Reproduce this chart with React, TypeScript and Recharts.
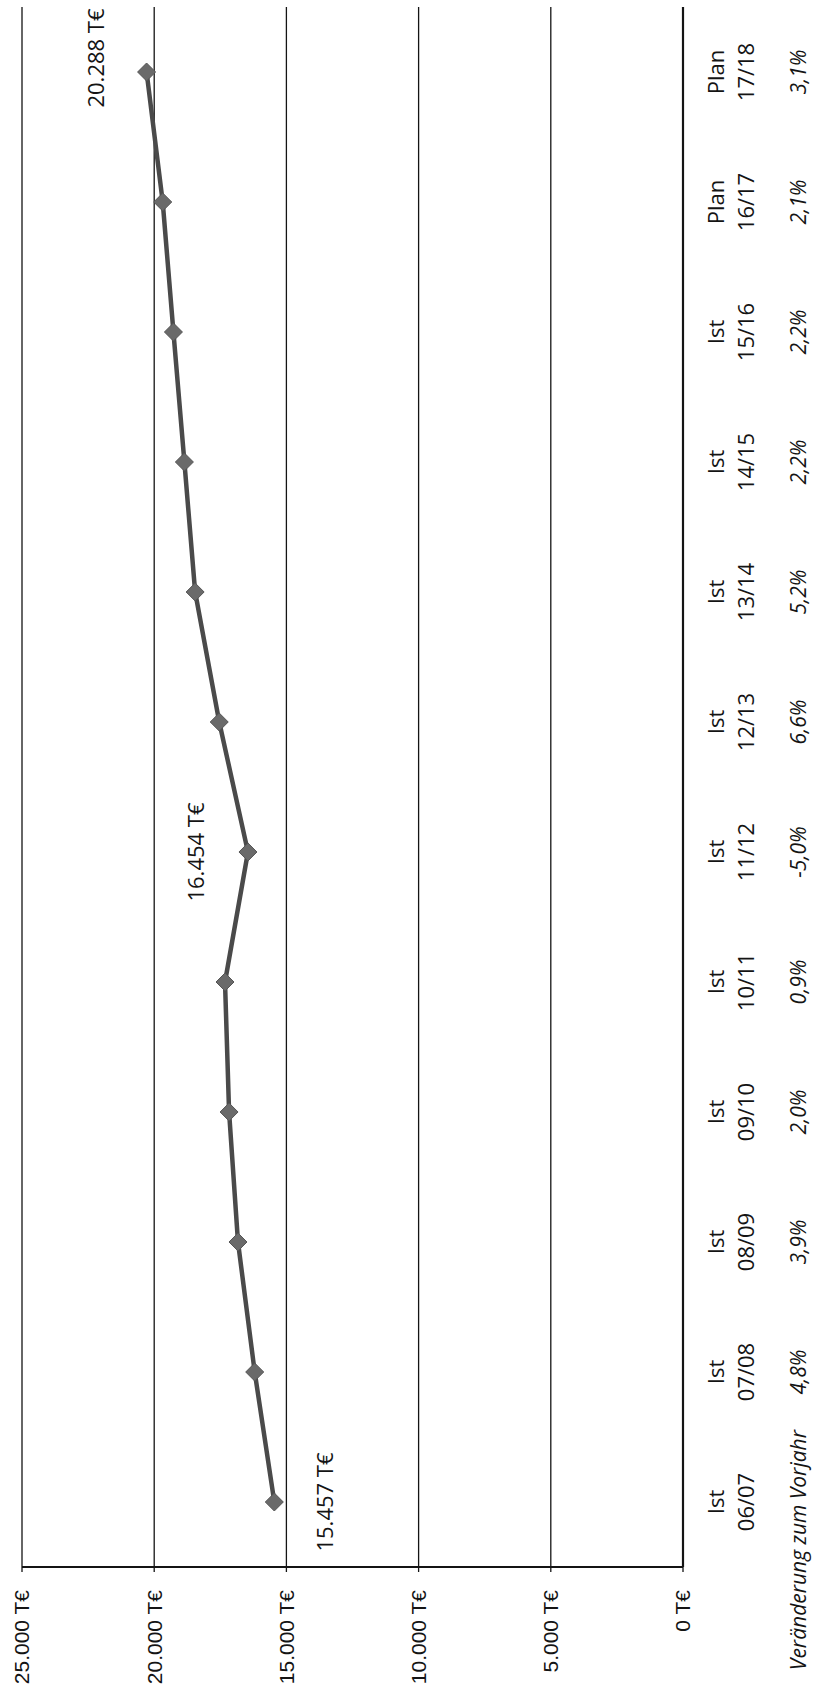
import { LineChart, Line, XAxis, YAxis, CartesianGrid } from 'recharts';

const PERIOD_TYPES = ['Ist', 'Ist', 'Ist', 'Ist', 'Ist', 'Ist', 'Ist', 'Ist', 'Ist', 'Ist', 'Plan', 'Plan'];
const PERIODS = ['06/07', '07/08', '08/09', '09/10', '10/11', '11/12', '12/13', '13/14', '14/15', '15/16', '16/17', '17/18'];
const VALUES = [15457, 16199, 16831, 17168, 17322, 16454, 17540, 18452, 18858, 19273, 19678, 20288];
const CHANGES = ['', '4,8%', '3,9%', '2,0%', '0,9%', '-5,0%', '6,6%', '5,2%', '2,2%', '2,2%', '2,1%', '3,1%'];
const CHANGE_CAPTION = 'Veränderung zum Vorjahr';
const Y_TICKS = [0, 5000, 10000, 15000, 20000, 25000];
const LABELLED = [0, 5, 11];

// chart is drawn landscape, then turned a quarter to the left
const W = 1689;
const H = 816;
const INK = '#141414';
const LABEL_FONT = '"Open Sans", "Noto Sans", sans-serif';
const AXIS_FONT = '"Liberation Sans", Arial, sans-serif';

const data = PERIODS.map((p, i) => ({ idx: i, value: VALUES[i] }));
const edgeTicks = [...PERIODS.map((_, i) => i - 0.5), PERIODS.length - 0.5];

const fmt = (v: number) => String(v).replace(/\B(?=(\d{3})+(?!\d))/g, '.');

// where each value label sits relative to its point
const labelOffset = (i: number) => {
  if (i === 0) return { dx: 0, dy: 50 };
  if (i === PERIODS.length - 1) return { dx: 14, dy: -52 };
  return { dx: 0, dy: -53 };
};

function CategoryTick({ x, y, payload }: any) {
  const i = payload.value as number;
  const base = { fill: INK, fontFamily: LABEL_FONT, dominantBaseline: 'central' as const };
  return (
    <g>
      <text x={x} y={y + 31} textAnchor="middle" fontSize={22} {...base}>{PERIOD_TYPES[i]}</text>
      <text x={x} y={y + 61} textAnchor="middle" fontSize={22} {...base}>{PERIODS[i]}</text>
      {i === 0 ? (
        <text x={x + 72} y={y + 114} textAnchor="end" fontStyle="italic" fontSize={21} {...base}>{CHANGE_CAPTION}</text>
      ) : (
        <text x={x} y={y + 114} textAnchor="middle" fontStyle="italic" fontSize={21} {...base}>{CHANGES[i]}</text>
      )}
    </g>
  );
}

function Diamond({ cx, cy, index }: any) {
  if (cx == null || cy == null) return <g key={`d-${index}`} />;
  const r = 9;
  return (
    <path
      key={`d-${index}`}
      d={`M${cx - r},${cy} L${cx},${cy - r} L${cx + r},${cy} L${cx},${cy + r} Z`}
      fill="#6a6a6a"
      stroke="#555"
      strokeWidth={1}
    />
  );
}

function ValueLabel({ x, y, value, index }: any) {
  if (!LABELLED.includes(index)) return <g key={`l-${index}`} />;
  const { dx, dy } = labelOffset(index);
  return (
    <text
      key={`l-${index}`}
      x={x + dx}
      y={y + dy}
      textAnchor="middle"
      dominantBaseline="central"
      fill={INK}
      fontSize={22}
      fontFamily={LABEL_FONT}
    >
      {`${fmt(value)} T€`}
    </text>
  );
}

export default function App() {
  return (
    <div style={{ position: 'absolute', left: 0, top: 0, width: 816, height: 1689, overflow: 'hidden', background: '#fff' }}>
      <div
        style={{
          position: 'absolute',
          left: 0,
          top: 0,
          width: W,
          height: H,
          transformOrigin: '0 0',
          transform: `translate(0px, ${W}px) rotate(-90deg)`,
        }}
      >
        <LineChart width={W} height={H} data={data} margin={{ top: 22, right: 7, left: 0, bottom: 0 }}>
          <CartesianGrid vertical={false} stroke={INK} strokeWidth={1.3} />
          {/* text rows under the axis */}
          <XAxis
            xAxisId="labels"
            type="number"
            dataKey="idx"
            domain={[-0.5, PERIODS.length - 0.5]}
            ticks={PERIODS.map((_, i) => i)}
            interval={0}
            height={132}
            tickSize={0}
            tickMargin={0}
            axisLine={false}
            tickLine={false}
            tick={<CategoryTick />}
          />
          {/* axis line + ticks between the categories, right on the plot edge (height must be > 0) */}
          <XAxis
            type="number"
            dataKey="idx"
            domain={[-0.5, PERIODS.length - 0.5]}
            ticks={edgeTicks}
            interval={0}
            height={1}
            tick={false}
            tickSize={7}
            axisLine={{ stroke: INK, strokeWidth: 2.2 }}
            tickLine={{ stroke: INK, strokeWidth: 2 }}
          />
          <YAxis
            domain={[0, 25000]}
            ticks={Y_TICKS}
            interval={0}
            width={122}
            tickFormatter={(v: number) => `${fmt(v)} T€`}
            tickSize={5}
            tickMargin={18}
            axisLine={{ stroke: INK, strokeWidth: 2.2 }}
            tickLine={{ stroke: INK, strokeWidth: 1.3 }}
            tick={{ fill: INK, fontSize: 21, fontFamily: AXIS_FONT }}
          />
          <Line
            dataKey="value"
            stroke="#4a4a4a"
            strokeWidth={4.5}
            dot={(p: any) => <Diamond {...p} />}
            activeDot={false}
            label={(p: any) => <ValueLabel {...p} />}
            isAnimationActive={false}
          />
        </LineChart>
      </div>
    </div>
  );
}
